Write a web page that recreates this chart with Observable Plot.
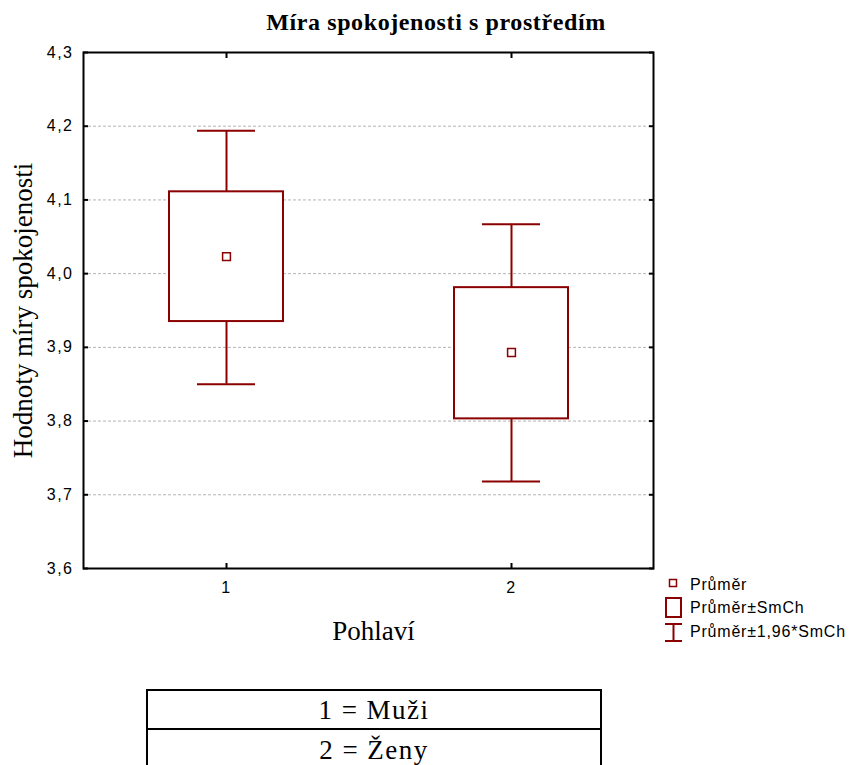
<!DOCTYPE html>
<html>
<head>
<meta charset="utf-8">
<script src="https://cdn.jsdelivr.net/npm/d3@7"></script>
<script src="https://cdn.jsdelivr.net/npm/@observablehq/plot@0.6"></script>
<style>
  html, body { margin: 0; padding: 0; background: #fff; }
  #wrap { position: relative; width: 856px; height: 765px; overflow: hidden; background: #fff; }
  #chart { position: absolute; left: 0; top: 0; }
  .chart g[aria-label$="tick label"] text { letter-spacing: 1.5px; }
  #title { position: absolute; left: 8px; top: 10px; width: 856px; text-align: center;
    font-family: "Liberation Serif", "Times New Roman", serif; font-weight: bold; font-size: 24px;
    letter-spacing: 0.6px; line-height: 24px; white-space: nowrap; }
  .leg { position: absolute; left: 690px; font-family: "Liberation Sans", Arial, sans-serif;
    font-size: 16px; line-height: 16px; letter-spacing: 0.8px; white-space: nowrap; color: #000; }
  #legicons { position: absolute; left: 0; top: 0; }
  #tbl { position: absolute; left: 146px; top: 689px; width: 452px; border: 2px solid #000; }
  .row { height: 37px; text-align: center; font-family: "Liberation Serif", "Times New Roman", serif;
    font-size: 27px; line-height: 37px; letter-spacing: 1.5px; box-sizing: border-box; }
  .row + .row { border-top: 2px solid #000; }
</style>
</head>
<body>
<div id="wrap">
  <div id="chart"></div>
  <div id="title"></div>
  <svg id="legicons" width="856" height="765"></svg>
  <div id="legend"></div>
  <div id="tbl"></div>
</div>
<script>
// ---- data ----
const groups = ["1", "2"];
const means = [4.023, 3.893];
const seLow = [3.935, 3.803];
const seHigh = [4.111, 3.981];
const ciLow = [3.850, 3.718];
const ciHigh = [4.194, 4.067];
const yTicks = [3.6, 3.7, 3.8, 3.9, 4.0, 4.1, 4.2, 4.3];
const yTickLabels = ["3,6", "3,7", "3,8", "3,9", "4,0", "4,1", "4,2", "4,3"];
const gridTicks = [3.7, 3.8, 3.9, 4.0, 4.1, 4.2];
const titleText = "Míra spokojenosti s prostředím";
const yLabel = "Hodnoty míry spokojenosti";
const xLabel = "Pohlaví";
const legendLabels = ["Průměr", "Průměr±SmCh", "Průměr±1,96*SmCh"];
const tableRows = ["1 = Muži", "2 = Ženy"];

const data = groups.map((g, i) => ({
  g, mean: means[i], seLo: seLow[i], seHi: seHigh[i], ciLo: ciLow[i], ciHi: ciHigh[i]
}));

const RED = "#8b0000";
const fmtY = d => {
  const i = yTicks.findIndex(t => Math.abs(t - d) < 1e-9);
  return i >= 0 ? yTickLabels[i] : "";
};
const blank = () => "";
const sans = "'Liberation Sans', Arial, sans-serif";
const serif = "'Liberation Serif', 'Times New Roman', serif";

const plot = Plot.plot({
  width: 856,
  height: 650,
  marginLeft: 83,
  marginRight: 203,
  marginTop: 52,
  marginBottom: 82,
  className: "chart",
  style: { fontFamily: sans, background: "white", overflow: "visible" },
  x: { type: "band", domain: groups, paddingInner: 0.6, paddingOuter: 0.3, axis: null },
  y: { domain: [3.6, 4.3], axis: null },
  marks: [
    Plot.gridY(gridTicks, { stroke: "#b4b4b4", strokeOpacity: 1, strokeDasharray: "3,2", strokeWidth: 1 }),
    Plot.ruleX(data, { x: "g", y1: "seHi", y2: "ciHi", stroke: RED, strokeWidth: 2 }),
    Plot.ruleX(data, { x: "g", y1: "seLo", y2: "ciLo", stroke: RED, strokeWidth: 2 }),
    Plot.tickY(data, { x: "g", y: "ciHi", insetLeft: 28, insetRight: 28, stroke: RED, strokeWidth: 2 }),
    Plot.tickY(data, { x: "g", y: "ciLo", insetLeft: 28, insetRight: 28, stroke: RED, strokeWidth: 2 }),
    Plot.barY(data, { x: "g", y1: "seLo", y2: "seHi", fill: "white", stroke: RED, strokeWidth: 2 }),
    Plot.dot(data, { x: "g", y: "mean", symbol: "square", r: 4.4, fill: "white", stroke: RED, strokeWidth: 1.5 }),
    Plot.frame({ stroke: "black", strokeWidth: 2 }),
    // inward tick marks (no labels)
    Plot.axisY(yTicks, { anchor: "left", tickSize: -5, tickFormat: blank, label: null, strokeWidth: 2 }),
    Plot.axisY(yTicks, { anchor: "right", tickSize: -5, tickFormat: blank, label: null, strokeWidth: 2 }),
    Plot.axisX(groups, { anchor: "bottom", tickSize: -5, tickFormat: blank, label: null, strokeWidth: 2 }),
    Plot.axisX(groups, { anchor: "top", tickSize: -5, tickFormat: blank, label: null, strokeWidth: 2 }),
    // tick labels
    Plot.axisY(yTicks, { anchor: "left", tickSize: 0, tickPadding: 10, tickFormat: fmtY,
      fontSize: 16, fontFamily: sans, label: null }),
    Plot.axisX(groups, { anchor: "bottom", tickSize: 0, tickPadding: 13, fontSize: 16, fontFamily: sans, label: null }),
    // axis titles
    Plot.text([yLabel], { frameAnchor: "left", textAnchor: "middle", lineAnchor: "middle", rotate: -90, dx: -60,
      fontFamily: serif, fontSize: 27, fill: "black" }),
    Plot.text([xLabel], { frameAnchor: "bottom", lineAnchor: "middle", dy: 63, dx: 5, fontFamily: serif, fontSize: 27, fill: "black" })
  ]
});
document.getElementById("chart").appendChild(plot);

document.getElementById("title").textContent = titleText;

// legend
const legBaselines = [590, 613, 637];
const legend = document.getElementById("legend");
legendLabels.forEach((t, i) => {
  const d = document.createElement("div");
  d.className = "leg";
  d.style.top = (legBaselines[i] - 13.5) + "px";
  d.textContent = t;
  legend.appendChild(d);
});
const icons = d3.select("#legicons");
icons.append("rect").attr("x", 669.5).attr("y", 579.5).attr("width", 7).attr("height", 7)
  .attr("fill", "white").attr("stroke", RED).attr("stroke-width", 1.5);
icons.append("rect").attr("x", 666).attr("y", 598).attr("width", 15).attr("height", 19)
  .attr("fill", "white").attr("stroke", RED).attr("stroke-width", 2);
icons.append("path").attr("d", "M665,624H682M673.5,624V641M665,641H682")
  .attr("fill", "none").attr("stroke", RED).attr("stroke-width", 2);

// table
const tbl = document.getElementById("tbl");
tableRows.forEach((t, i) => {
  const r = document.createElement("div");
  r.className = "row";
  r.style.paddingTop = (i === 0 ? 1 : 2) + "px";
  r.style.height = (i === 0 ? 37 : 39) + "px";
  r.style.lineHeight = "36px";
  r.textContent = t;
  tbl.appendChild(r);
});
</script>
</body>
</html>
